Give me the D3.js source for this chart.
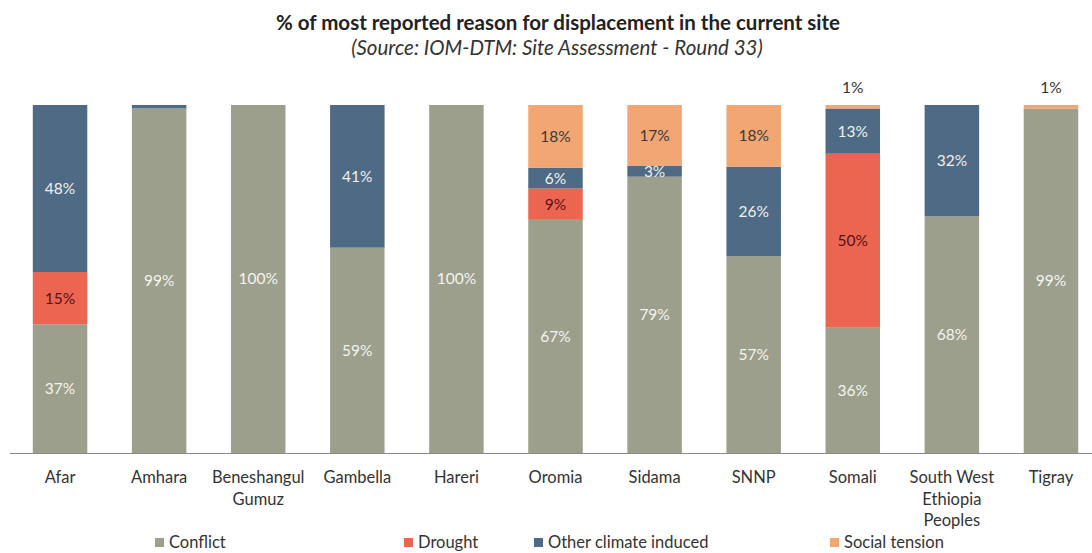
<!DOCTYPE html>
<html lang="en">
<head>
    <meta charset="UTF-8">
    <title>Reason for displacement</title>
    <script src="https://d3js.org/d3.v7.min.js"></script>
    <style>
        body { margin: 0; background: #fff; }
        svg text { font-family: Lato, "Open Sans", sans-serif; }
    </style>
</head>
<body>
    <div id="chart"></div>
    <script>
        // categories (regions) and series values, in percent
        var regions = ["Afar", "Amhara", "Beneshangul Gumuz", "Gambella", "Hareri", "Oromia",
                       "Sidama", "SNNP", "Somali", "South West Ethiopia Peoples", "Tigray"];
        var regionLines = [["Afar"], ["Amhara"], ["Beneshangul", "Gumuz"], ["Gambella"], ["Hareri"], ["Oromia"],
                           ["Sidama"], ["SNNP"], ["Somali"], ["South West", "Ethiopia", "Peoples"], ["Tigray"]];
        var seriesNames = ["Conflict", "Drought", "Other climate induced", "Social tension"];

        var conflict      = [37, 99, 100, 59, 100, 67, 79.4, 56.6, 36, 68, 99];
        var drought       = [15, 0, 0, 0, 0, 9, 0, 0, 50, 0, 0];
        var otherClimate  = [48, 1, 0, 41, 0, 6, 3.2, 25.7, 13, 32, 0];
        var socialTension = [0, 0, 0, 0, 0, 18, 17.4, 17.7, 1, 0, 1];

        var colors = ["#9c9f8c", "#ec6550", "#4f6a84", "#f2a673"];
        var labelColors = ["#f4f4f0", "#5a1212", "#f0f0f0", "#3a3a3a"];

        var rows = regions.map(function(r, i) {
            return { region: r, "Conflict": conflict[i], "Drought": drought[i],
                     "Other climate induced": otherClimate[i], "Social tension": socialTension[i] };
        });

        var W = 1092, H = 553;
        var svg = d3.select("#chart").append("svg").attr("width", W).attr("height", H);

        var x = d3.scaleBand().domain(regions).range([10, 1101]).paddingInner(0.45).paddingOuter(0.23);
        var y = d3.scaleLinear().domain([0, 100]).range([453, 105]);

        var stack = d3.stack().keys(seriesNames)(rows);

        // bars
        var layers = svg.selectAll(".layer").data(stack).enter().append("g")
            .attr("class", "layer")
            .attr("fill", function(d, i) { return colors[i]; });

        layers.selectAll("rect").data(function(d) { return d; }).enter().append("rect")
            .attr("x", function(d) { return x(d.data.region); })
            .attr("width", x.bandwidth())
            .attr("y", function(d) { return y(d[1]); })
            .attr("height", function(d) { return y(d[0]) - y(d[1]); });

        // value labels
        stack.forEach(function(layer, si) {
            layer.forEach(function(d) {
                var v = d[1] - d[0];
                if (v <= 0) return;
                if (layer.key === "Other climate induced" && v < 2) return;
                var cx = x(d.data.region) + x.bandwidth() / 2;
                var small = v < 2;
                svg.append("text")
                    .attr("x", cx)
                    .attr("y", small ? y(d[1]) - 17 : (y(d[0]) + y(d[1])) / 2)
                    .attr("dy", "0.35em")
                    .attr("text-anchor", "middle")
                    .attr("font-size", 15.5)
                    .attr("fill", small ? "#333" : labelColors[si])
                    .text(Math.round(v) + "%");
            });
        });

        // x axis
        svg.append("line")
            .attr("x1", 10).attr("x2", 1092)
            .attr("y1", 453.5).attr("y2", 453.5)
            .attr("stroke", "#8a8a8a").attr("stroke-width", 1);

        regionLines.forEach(function(lines, i) {
            var t = svg.append("text")
                .attr("x", x(regions[i]) + x.bandwidth() / 2)
                .attr("y", 483)
                .attr("text-anchor", "middle")
                .attr("font-size", 16.5)
                .attr("fill", "#333");
            lines.forEach(function(l, j) {
                t.append("tspan").attr("x", x(regions[i]) + x.bandwidth() / 2)
                    .attr("dy", j === 0 ? 0 : 21.5).text(l);
            });
        });

        // title
        svg.append("text")
            .attr("x", 558).attr("y", 30)
            .attr("text-anchor", "middle")
            .attr("font-size", 20.5)
            .attr("font-weight", "bold")
            .attr("fill", "#222")
            .text("% of most reported reason for displacement in the current site");

        svg.append("text")
            .attr("x", 557).attr("y", 55)
            .attr("text-anchor", "middle")
            .attr("font-size", 20.5)
            .attr("font-style", "italic")
            .attr("fill", "#333")
            .text("(Source: IOM-DTM: Site Assessment - Round 33)");

        // legend
        var legendX = [155, 404, 534, 830];
        seriesNames.forEach(function(s, i) {
            svg.append("rect")
                .attr("x", legendX[i]).attr("y", 538)
                .attr("width", 9).attr("height", 9)
                .attr("fill", colors[i]);
            svg.append("text")
                .attr("x", legendX[i] + 14).attr("y", 548)
                .attr("font-size", 16.5)
                .attr("fill", "#333")
                .text(s);
        });
    </script>
</body>
</html>
